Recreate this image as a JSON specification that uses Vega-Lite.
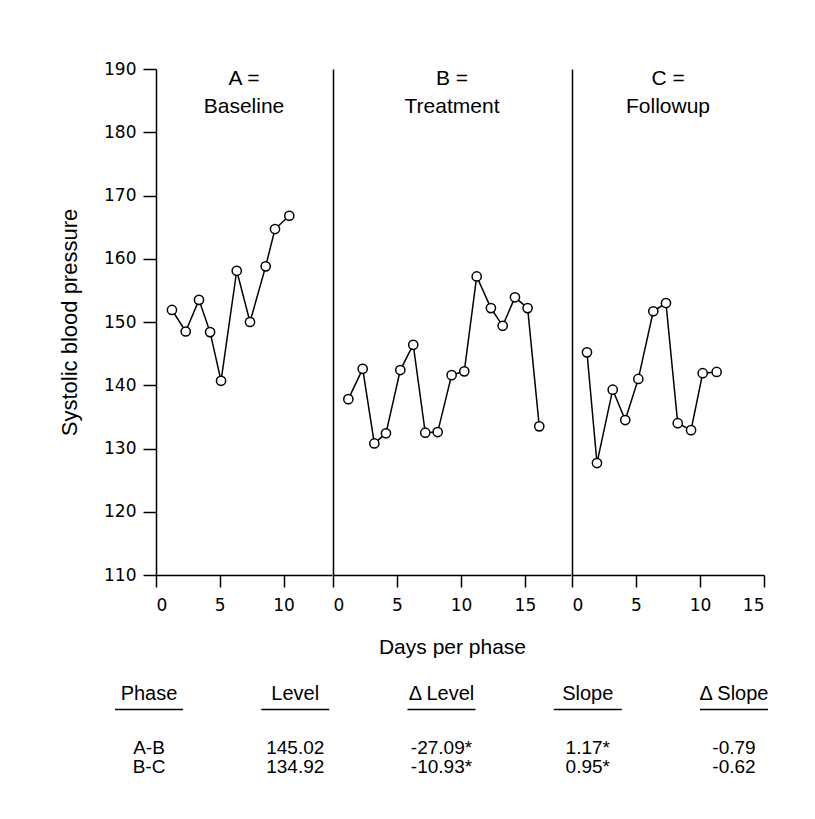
{
  "$schema": "https://vega.github.io/schema/vega-lite/v6.json",
  "background": "white",
  "padding": {"left": 58, "top": 60, "right": 10, "bottom": 10},
  "config": {
    "font": "Liberation Sans",
    "view": {"stroke": null},
    "axis": {
      "domainColor": "black", "domainWidth": 1.5, "tickColor": "black", "tickWidth": 1.5,
      "labelColor": "black", "titleColor": "black", "grid": false,
      "labelFont": "DejaVu Sans", "labelFontSize": 17,
      "titleFont": "Liberation Sans", "titleFontWeight": "normal", "titleFontSize": 21
    },
    "title": {"font": "Liberation Sans", "fontWeight": "normal", "fontSize": 21, "color": "black", "lineHeight": 28}
  },
  "datasets": {
    "bp": [
      {"phase": "A", "day": 1.25, "sbp": 151.9},
      {"phase": "A", "day": 2.33, "sbp": 148.5},
      {"phase": "A", "day": 3.37, "sbp": 153.5},
      {"phase": "A", "day": 4.24, "sbp": 148.4},
      {"phase": "A", "day": 5.10, "sbp": 140.7},
      {"phase": "A", "day": 6.33, "sbp": 158.1},
      {"phase": "A", "day": 7.37, "sbp": 150.0},
      {"phase": "A", "day": 8.60, "sbp": 158.8},
      {"phase": "A", "day": 9.33, "sbp": 164.7},
      {"phase": "A", "day": 10.45, "sbp": 166.8},
      {"phase": "B", "day": 1.20, "sbp": 137.8},
      {"phase": "B", "day": 2.32, "sbp": 142.6},
      {"phase": "B", "day": 3.23, "sbp": 130.8},
      {"phase": "B", "day": 4.14, "sbp": 132.4},
      {"phase": "B", "day": 5.26, "sbp": 142.4},
      {"phase": "B", "day": 6.27, "sbp": 146.4},
      {"phase": "B", "day": 7.21, "sbp": 132.5},
      {"phase": "B", "day": 8.18, "sbp": 132.6},
      {"phase": "B", "day": 9.27, "sbp": 141.6},
      {"phase": "B", "day": 10.26, "sbp": 142.2},
      {"phase": "B", "day": 11.23, "sbp": 157.2},
      {"phase": "B", "day": 12.34, "sbp": 152.2},
      {"phase": "B", "day": 13.26, "sbp": 149.4},
      {"phase": "B", "day": 14.22, "sbp": 153.9},
      {"phase": "B", "day": 15.21, "sbp": 152.2},
      {"phase": "B", "day": 16.12, "sbp": 133.5},
      {"phase": "C", "day": 1.17, "sbp": 145.2},
      {"phase": "C", "day": 1.95, "sbp": 127.7},
      {"phase": "C", "day": 3.18, "sbp": 139.3},
      {"phase": "C", "day": 4.16, "sbp": 134.5},
      {"phase": "C", "day": 5.18, "sbp": 141.0},
      {"phase": "C", "day": 6.35, "sbp": 151.7},
      {"phase": "C", "day": 7.34, "sbp": 153.0},
      {"phase": "C", "day": 8.26, "sbp": 134.0},
      {"phase": "C", "day": 9.30, "sbp": 132.9},
      {"phase": "C", "day": 10.21, "sbp": 141.9},
      {"phase": "C", "day": 11.30, "sbp": 142.1}
    ],
    "headers": [
      {"column": "Phase"}, {"column": "Level"}, {"column": "Δ Level"}, {"column": "Slope"}, {"column": "Δ Slope"}
    ],
    "cells": [
      {"row": "A-B", "column": "Phase", "value": "A-B"},
      {"row": "A-B", "column": "Level", "value": "145.02"},
      {"row": "A-B", "column": "Δ Level", "value": "-27.09*"},
      {"row": "A-B", "column": "Slope", "value": "1.17*"},
      {"row": "A-B", "column": "Δ Slope", "value": "-0.79"},
      {"row": "B-C", "column": "Phase", "value": "B-C"},
      {"row": "B-C", "column": "Level", "value": "134.92"},
      {"row": "B-C", "column": "Δ Level", "value": "-10.93*"},
      {"row": "B-C", "column": "Slope", "value": "0.95*"},
      {"row": "B-C", "column": "Δ Slope", "value": "-0.62"}
    ]
  },
  "vconcat": [
    {
      "spacing": 0,
      "resolve": {"scale": {"x": "independent", "y": "independent"}, "axis": {"x": "independent", "y": "independent"}},
      "hconcat": [
        {
          "width": 176, "height": 506,
          "data": {"name": "bp"},
          "transform": [{"filter": "datum.phase === 'A'"}],
          "title": {"text": ["A =", "Baseline"], "offset": -57, "anchor": "middle", "frame": "group"},
          "encoding": {
            "x": {"field": "day", "type": "quantitative", "scale": {"domain": [0, 13.8], "nice": false, "zero": false},
                  "axis": {"values": [0, 5, 10], "title": null, "tickSize": 12, "labelPadding": 10}},
            "y": {"field": "sbp", "type": "quantitative", "scale": {"domain": [110, 190], "nice": false, "zero": false},
                  "axis": {"values": [110, 120, 130, 140, 150, 160, 170, 180, 190], "title": "Systolic blood pressure",
                           "titleFontSize": 22, "tickSize": 13, "labelPadding": 7, "titlePadding": 22}}
          },
          "layer": [
            {"mark": {"type": "line", "color": "black", "strokeWidth": 1.5}},
            {"mark": {"type": "point", "shape": "circle", "filled": true, "fill": "white", "stroke": "black", "strokeWidth": 1.5, "size": 85, "opacity": 1}}
          ]
        },
        {
          "width": 238, "height": 506,
          "data": {"name": "bp"},
          "transform": [{"filter": "datum.phase === 'B'"}],
          "title": {"text": ["B =", "Treatment"], "offset": -48, "anchor": "middle", "frame": "group"},
          "encoding": {
            "x": {"field": "day", "type": "quantitative", "scale": {"domain": [0, 18.6], "nice": false, "zero": false},
                  "axis": {"values": [0, 5, 10, 15], "title": "Days per phase", "tickSize": 12, "labelPadding": 10, "titlePadding": 23}},
            "y": {"field": "sbp", "type": "quantitative", "scale": {"domain": [110, 190], "nice": false, "zero": false},
                  "axis": {"labels": false, "ticks": false, "title": null}}
          },
          "layer": [
            {"mark": {"type": "line", "color": "black", "strokeWidth": 1.5}},
            {"mark": {"type": "point", "shape": "circle", "filled": true, "fill": "white", "stroke": "black", "strokeWidth": 1.5, "size": 85, "opacity": 1}}
          ]
        },
        {
          "width": 192, "height": 506,
          "data": {"name": "bp"},
          "transform": [{"filter": "datum.phase === 'C'"}],
          "title": {"text": ["C =", "Followup"], "offset": -48, "anchor": "middle", "frame": "group"},
          "encoding": {
            "x": {"field": "day", "type": "quantitative", "scale": {"domain": [0, 15], "nice": false, "zero": false},
                  "axis": {"values": [0, 5, 10, 15], "title": null, "tickSize": 12, "labelPadding": 10}},
            "y": {"field": "sbp", "type": "quantitative", "scale": {"domain": [110, 190], "nice": false, "zero": false},
                  "axis": {"labels": false, "ticks": false, "title": null}}
          },
          "layer": [
            {"mark": {"type": "line", "color": "black", "strokeWidth": 1.5}},
            {"mark": {"type": "point", "shape": "circle", "filled": true, "fill": "white", "stroke": "black", "strokeWidth": 1.5, "size": 85, "opacity": 1}}
          ]
        }
      ]
    },
    {
      "width": 600,
      "height": {"step": 19},
      "layer": [
        {
          "data": {"name": "headers"},
          "mark": {"type": "text", "fontSize": 20, "color": "black", "dy": 3},
          "encoding": {
            "x": {"field": "column", "type": "nominal", "sort": null, "scale": {"type": "point", "padding": 0, "domain": ["Phase", "Level", "Δ Level", "Slope", "Δ Slope"], "range": [-7, 578]}, "axis": null},
            "y": {"datum": "header", "type": "nominal", "scale": {"type": "point", "domain": ["header", "underline", "gap", "A-B", "B-C"]}, "axis": null},
            "text": {"field": "column"}
          }
        },
        {
          "data": {"name": "headers"},
          "mark": {"type": "tick", "orient": "horizontal", "size": 68, "thickness": 1.5, "color": "black", "opacity": 1},
          "encoding": {
            "x": {"field": "column", "type": "nominal", "sort": null},
            "y": {"datum": "underline", "type": "nominal"}
          }
        },
        {
          "data": {"name": "cells"},
          "mark": {"type": "text", "fontSize": 19, "color": "black"},
          "encoding": {
            "x": {"field": "column", "type": "nominal", "sort": null},
            "y": {"field": "row", "type": "nominal"},
            "text": {"field": "value"}
          }
        }
      ]
    }
  ],
  "spacing": 24
}
